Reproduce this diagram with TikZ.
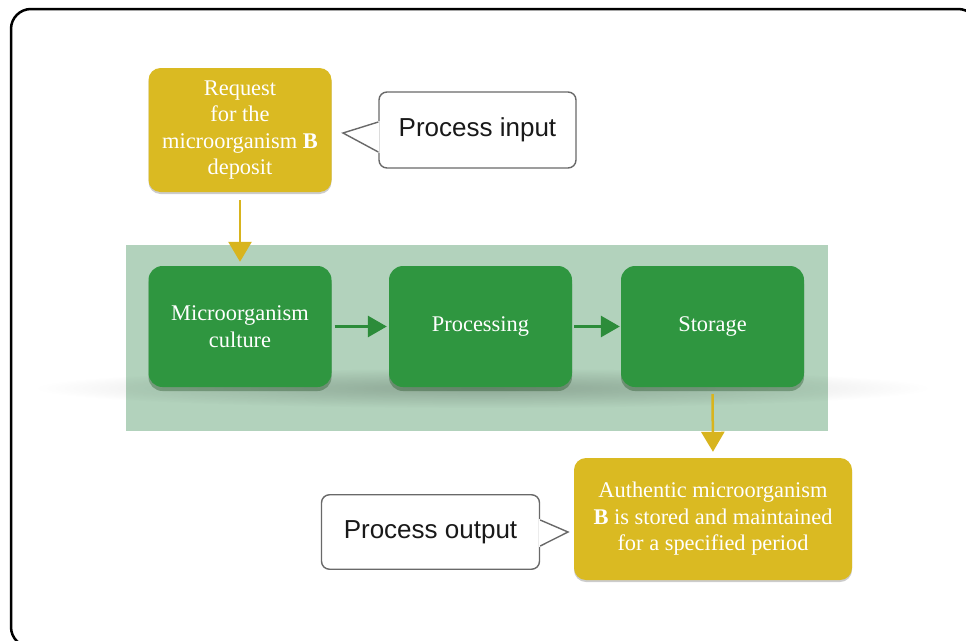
\documentclass[tikz,border=0pt]{standalone}
\usepackage{fontspec}
\setmainfont{Liberation Serif}
\newfontfamily\calloutfont{Liberation Sans}
\usetikzlibrary{arrows.meta,shadows,fadings,calc}

\definecolor{gold}{RGB}{218,186,34}
\definecolor{boxgreen}{RGB}{47,150,64}
\definecolor{bandgreen}{RGB}{178,210,188}
\definecolor{arrowgreen}{RGB}{44,140,58}
\definecolor{arrowgold}{RGB}{216,180,30}
\definecolor{calloutgray}{RGB}{105,105,105}

\tikzfading[name=hazefade, inner color=transparent!0, outer color=transparent!100]

\begin{document}
\begin{tikzpicture}[x=1pt,y=-1pt,
  goldbox/.style={fill=gold, rounded corners=12pt, text=white, align=center,
    font=\fontsize{22.4}{26.5}\selectfont, inner sep=0pt,
    drop shadow={shadow xshift=0pt, shadow yshift=-2pt, opacity=0.2, fill=black}},
  greenbox/.style={fill=boxgreen, rounded corners=14pt, text=white, align=center,
    font=\fontsize{22.4}{26.5}\selectfont, inner sep=0pt,
    minimum width=183pt, minimum height=121pt,
    drop shadow={shadow xshift=0pt, shadow yshift=-4pt, opacity=0.3, fill=black!80!green}},
  calloutbox/.style={draw=calloutgray, line width=1.4pt, fill=white, rounded corners=8pt,
    font=\calloutfont\fontsize{26}{30}\selectfont, text=black!90, inner sep=0pt},
  pointerline/.style={draw=calloutgray, line width=1.4pt, line join=miter},
  greenarrow/.style={draw=arrowgreen, line width=3pt,
    -{Triangle[length=19pt, width=21pt]}},
  goldarrow/.style={draw=arrowgold, line width=2.5pt,
    -{Triangle[length=20pt, width=23pt]}}
]
\useasboundingbox (0,0) rectangle (966,640);
\clip (0,0) rectangle (966,640);
\fill[white] (0,0) rectangle (966,640);

% outer frame, running off the page on the right and at the bottom
\draw[line width=2.5pt, rounded corners=20pt] (11,9) rectangle (978,647);

% process band and its soft shadow
\fill[bandgreen] (126,245) rectangle (828,431);
\fill[black, opacity=0.2, path fading=hazefade] (35,368) rectangle (930,408);

% process steps
\node[greenbox] (culture) at (240,326.5) {Microorganism\\culture};
\node[greenbox] (proc) at (480.5,326.5) {Processing};
\node[greenbox] (store) at (712.5,326.5) {Storage};

\draw[greenarrow, shorten <=3pt, shorten >=2pt] (culture) -- (proc);
\draw[greenarrow, shorten <=2pt, shorten >=1pt] (proc) -- (store);

% input and output
\node[goldbox, minimum width=183pt, minimum height=124pt] (req) at (240,130)
  {Request\\for the\\microorganism \textbf{B}\\deposit};
\node[goldbox, minimum width=278pt, minimum height=122pt] (out) at (713,519)
  {Authentic microorganism\\\textbf{B} is stored and maintained\\for a specified period};

\draw[goldarrow, shorten <=8pt, shorten >=4pt] (req.south) -- (culture.north);
\draw[goldarrow, shorten <=7pt, shorten >=6pt] (store.south) -- (out.north);

% callouts
\node[calloutbox, minimum width=197pt, minimum height=76pt] (inlabel) at (477.5,130) {Process input};
\coordinate (intip) at (343,133);
\fill[white] ($(inlabel.west)+(1.2,-9)$) -- (intip) -- ($(inlabel.west)+(1.2,23)$) -- cycle;
\draw[pointerline] ($(inlabel.west)+(0,-8)$) -- (intip) -- ($(inlabel.west)+(0,22)$);

\node[calloutbox, minimum width=218pt, minimum height=74.5pt] (outlabel) at (430.5,532) {Process output};
\coordinate (outtip) at (568,532);
\fill[white] ($(outlabel.east)+(-1.2,-13)$) -- (outtip) -- ($(outlabel.east)+(-1.2,15)$) -- cycle;
\draw[pointerline] ($(outlabel.east)+(0,-12)$) -- (outtip) -- ($(outlabel.east)+(0,14)$);
\end{tikzpicture}
\end{document}
